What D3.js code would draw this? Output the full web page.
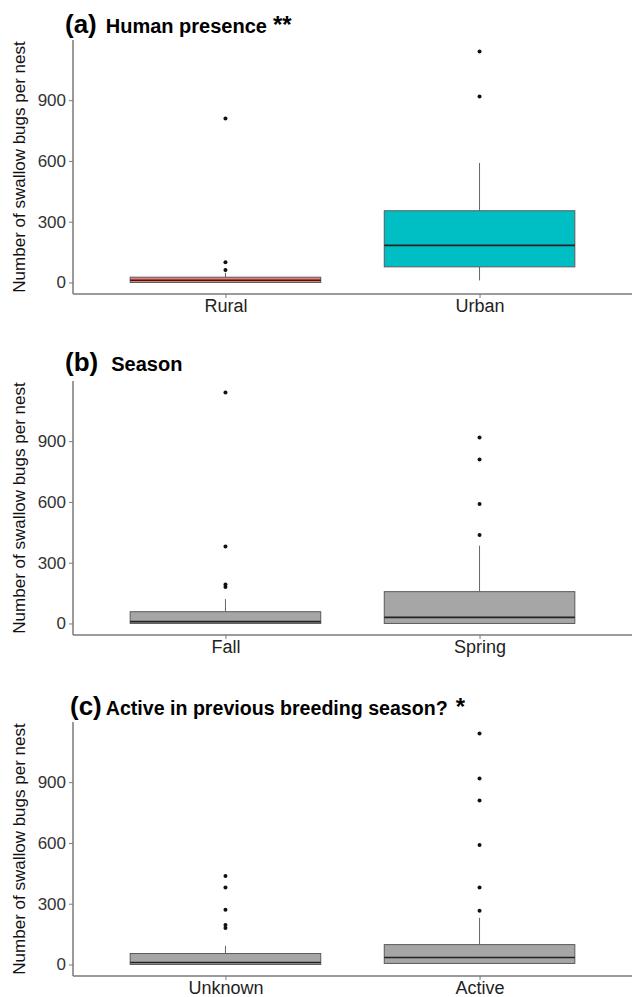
<!DOCTYPE html>
<html>
<head>
<meta charset="utf-8">
<script src="https://cdn.jsdelivr.net/npm/d3@7"></script>
<style>
  body { margin: 0; background: #fff; }
  text { font-family: "Liberation Sans", Arial, sans-serif; }
</style>
</head>
<body>
<div id="chart"></div>
<script>
// box stats: [lowWhisker, q1, median, q3, highWhisker]
const groupsA = ["Rural", "Urban"];
const boxesA = [[0, 0, 11, 26, 48], [10, 77, 183, 354, 590]];
const outliersA = [[62, 100, 810], [918, 1140]];

const groupsB = ["Fall", "Spring"];
const boxesB = [[0, 0, 9, 58, 120], [0, 0, 30, 157, 384]];
const outliersB = [[180, 192, 380, 1140], [437, 590, 810, 918]];

const groupsC = ["Unknown", "Active"];
const boxesC = [[0, 0, 10, 54, 92], [5, 5, 34, 98, 230]];
const outliersC = [[180, 195, 270, 380, 437], [265, 380, 590, 810, 918, 1140]];

const yTicks = [0, 300, 600, 900];

const panels = [
  { letter: "(a)", title: "Human presence", star: "**", groups: groupsA, boxes: boxesA, outliers: outliersA,
    fills: ["#F8766D", "#00BFC4"], top: 40, titleY: 33, gap: 9 },
  { letter: "(b)", title: "Season", star: "", groups: groupsB, boxes: boxesB, outliers: outliersB,
    fills: ["#A6A6A6", "#A6A6A6"], top: 381, titleY: 371, gap: 13 },
  { letter: "(c)", title: "Active in previous breeding season?", star: "*", groups: groupsC, boxes: boxesC, outliers: outliersC,
    fills: ["#A6A6A6", "#A6A6A6"], top: 722, titleY: 715, gap: 4 }
];

const W = 633, H = 997;
const left = 73, right = 632, ph = 254;

const svg = d3.select("#chart").append("svg")
  .attr("width", W)
  .attr("height", H);

const x = d3.scaleLinear().domain([0.4, 2.6]).range([left, right]);
const boxW = x(0.75) - x(0);

panels.forEach(function(p) {
  const y = d3.scaleLinear().domain([-57, 1197]).range([p.top + ph, p.top]);
  const g = svg.append("g");

  // boxes
  p.boxes.forEach(function(b, i) {
    const cx = x(i + 1);
    g.append("line")
      .attr("x1", cx).attr("x2", cx)
      .attr("y1", y(b[3])).attr("y2", y(b[4]))
      .attr("stroke", "#666").attr("stroke-width", 1);
    g.append("line")
      .attr("x1", cx).attr("x2", cx)
      .attr("y1", y(b[0])).attr("y2", y(b[1]))
      .attr("stroke", "#666").attr("stroke-width", 1);
    g.append("rect")
      .attr("x", cx - boxW / 2)
      .attr("width", boxW)
      .attr("y", y(b[3]))
      .attr("height", Math.max(y(b[1]) - y(b[3]), 1))
      .attr("fill", p.fills[i])
      .attr("stroke", "#5a5a5a")
      .attr("stroke-width", 1);
    g.append("line")
      .attr("x1", cx - boxW / 2).attr("x2", cx + boxW / 2)
      .attr("y1", y(b[2])).attr("y2", y(b[2]))
      .attr("stroke", "#222").attr("stroke-width", 1.6);

    g.selectAll(null)
      .data(p.outliers[i])
      .enter().append("circle")
      .attr("cx", cx)
      .attr("cy", d => y(d))
      .attr("r", 2)
      .attr("fill", "#111");
  });

  // axes
  const yAxis = g.append("g")
    .attr("transform", `translate(${left},0)`)
    .call(d3.axisLeft(y).tickValues(yTicks).tickSize(4).tickPadding(3));
  yAxis.select(".domain").attr("stroke", "#7a7a7a").attr("stroke-width", 1.5)
    .attr("d", `M0,${p.top}V${p.top + ph}`);
  yAxis.selectAll(".tick line").attr("stroke", "#7a7a7a");
  yAxis.selectAll(".tick text").attr("fill", "#333").style("font-size", "17px");

  const xAxis = g.append("g")
    .attr("transform", `translate(0,${p.top + ph})`)
    .call(d3.axisBottom(x).tickValues([1, 2]).tickFormat((d, i) => p.groups[i]).tickSize(4).tickPadding(1));
  xAxis.select(".domain").attr("stroke", "#7a7a7a").attr("stroke-width", 1.5)
    .attr("d", `M${left},0H${right}`);
  xAxis.selectAll(".tick line").attr("stroke", "#7a7a7a");
  xAxis.selectAll(".tick text").attr("fill", "#222").style("font-size", "18px");

  // y title
  g.append("text")
    .attr("transform", `translate(25,${p.top + ph / 2}) rotate(-90)`)
    .attr("text-anchor", "middle")
    .style("font-size", "17px")
    .attr("fill", "#111")
    .text("Number of swallow bugs per nest");

  // title
  const t = g.append("text")
    .attr("x", p.letter === "(c)" ? 70 : 65)
    .attr("y", p.titleY)
    .attr("font-weight", "bold")
    .attr("fill", "#000");
  t.append("tspan").style("font-size", "26px").text(p.letter);
  t.append("tspan").attr("dx", p.gap)
    .style("font-size", p.letter === "(c)" ? "19.6px" : "20px").text(p.title);
  if (p.star) {
    t.append("tspan").attr("dx", p.star === "*" ? 8 : 6).style("font-size", "24px").text(p.star);
  }
});
</script>
</body>
</html>
